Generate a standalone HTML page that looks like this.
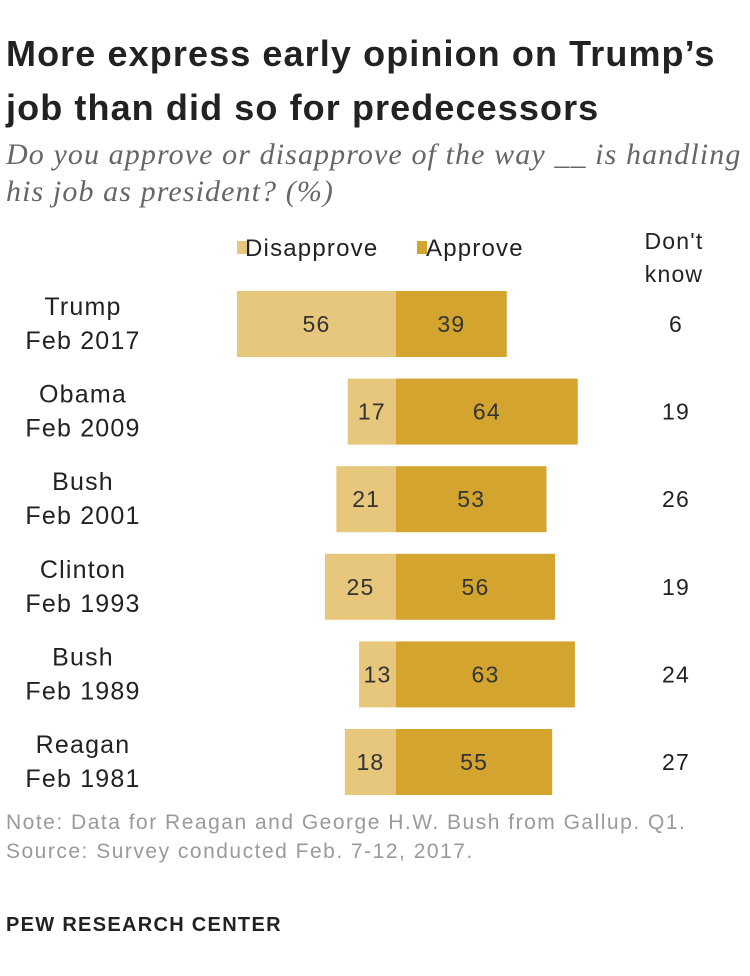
<!DOCTYPE html>
<html><head><meta charset="utf-8"><style>
body{margin:0;background:#fff;width:750px;height:976px;overflow:hidden;font-family:"Liberation Sans",sans-serif;}
.t{position:absolute;white-space:nowrap;}
</style></head><body>
<div style="position:absolute;left:0;top:0;width:750px;height:976px">
<div class="t" style="left:6px;top:27px;font-size:36px;font-weight:bold;color:#222;line-height:54px;letter-spacing:1.1px">More express early opinion on Trump’s<br>job than did so for predecessors</div>
<div class="t" style="left:6px;top:136px;font-family:'Liberation Serif',serif;font-style:italic;font-size:30px;color:#666;line-height:37px;letter-spacing:1.1px">Do you approve or disapprove of the way __ is handling<br>his job as president? (%)</div>
<svg id="chart" width="750" height="976" style="position:absolute;left:0;top:0;letter-spacing:1.2px"></svg>
<div class="t" style="left:6px;top:808px;font-size:21px;color:#9a9a9a;line-height:29px;letter-spacing:1.5px">Note: Data for Reagan and George H.W. Bush from Gallup. Q1.<br>Source: Survey conducted Feb. 7-12, 2017.</div>
<div class="t" style="left:6px;top:914px;font-size:20px;font-weight:bold;color:#222;letter-spacing:1.3px">PEW RESEARCH CENTER</div>
</div>
<script>
const names=["Trump","Obama","Bush","Clinton","Bush","Reagan"];
const dates=["Feb 2017","Feb 2009","Feb 2001","Feb 1993","Feb 1989","Feb 1981"];
const disapprove=[56,17,21,25,13,18];
const approve=[39,64,53,56,63,55];
const dontKnow=[6,19,26,19,24,27];
const NS="http://www.w3.org/2000/svg";
const svg=document.getElementById('chart');
const cx=396,k=2.84,top0=291,pitch=87.6,bh=66,fs=23,lfs=25;
const x=v=>v*k;
function el(t,a,txt){const e=document.createElementNS(NS,t);for(const p in a)e.setAttribute(p,a[p]);if(txt!=null)e.textContent=txt;svg.appendChild(e);return e;}
let e;
e=el('rect',{x:237,y:241,width:10,height:13,fill:'#e6c77c'});


e=el('text',{x:245,y:256,'font-size':24,fill:'#222'},'Disapprove');


e=el('text',{x:674,y:249,'font-size':fs,fill:'#222','text-anchor':'middle'},"Don't");


e=el('rect',{x:417,y:241,width:10,height:13,fill:'#d4a52e'});


e=el('text',{x:426,y:256,'font-size':24,fill:'#222'},'Approve');


e=el('text',{x:674,y:282,'font-size':fs,fill:'#222','text-anchor':'middle'},"know");


names.forEach((n,i)=>{
  const y=top0+i*pitch, my=y+bh/2;
  e=el('text',{x:83,y:my-9,'font-size':lfs,fill:'#222','text-anchor':'middle'},n);
  
  
  e=el('text',{x:83,y:my+25,'font-size':lfs,fill:'#222','text-anchor':'middle'},dates[i]);
  
  
  const wd=x(disapprove[i]), wa=x(approve[i]);
  e=el('rect',{x:cx-wd,y:y,width:wd,height:bh,fill:'#e6c77c'});
  
  
  e=el('rect',{x:cx,y:y,width:wa,height:bh,fill:'#d4a52e'});
  
  
  e=el('text',{x:cx-wd/2,y:my+8,'font-size':fs,fill:'#333','text-anchor':'middle'},disapprove[i]);
  
  
  e=el('text',{x:cx+wa/2,y:my+8,'font-size':fs,fill:'#333','text-anchor':'middle'},approve[i]);
  
  
  e=el('text',{x:676,y:my+8,'font-size':fs,fill:'#222','text-anchor':'middle'},dontKnow[i]);
  
  
});
</script>
</body></html>
